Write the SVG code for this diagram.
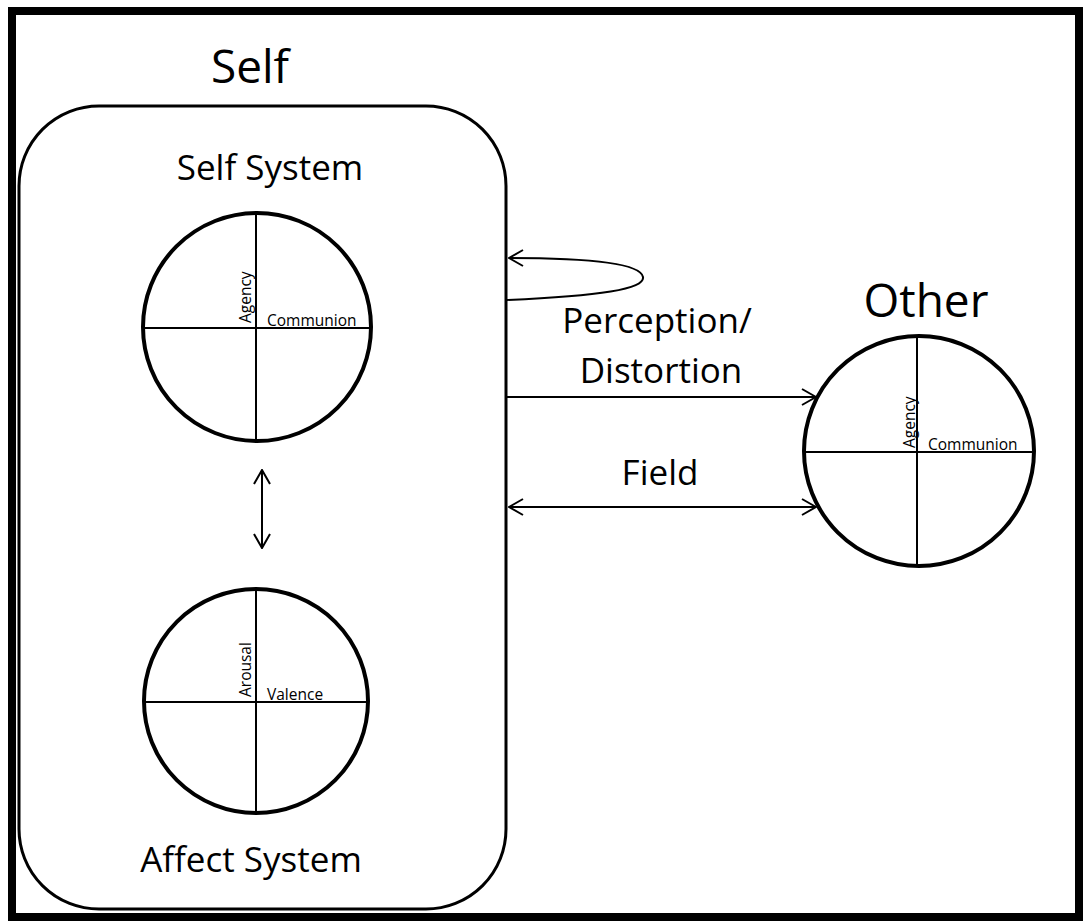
<svg xmlns="http://www.w3.org/2000/svg" width="1083" height="921" viewBox="0 0 1083 921">
<style>
text{font-family:"Open Sans","Liberation Sans",sans-serif;fill:#000}
.big{font-size:46px}
.mid{font-size:35px}
.sm{font-size:15.5px}
.circ{fill:#fff;stroke:#000;stroke-width:4}
.axis{stroke:#000;stroke-width:2}
.conn{fill:none;stroke:#000;stroke-width:2}
</style>
<defs>
<marker id="ah" viewBox="0 0 16 18" refX="15" refY="9" markerWidth="16" markerHeight="18" markerUnits="userSpaceOnUse" orient="auto-start-reverse">
<path d="M1,1 L15,9 L1,17" fill="none" stroke="#000" stroke-width="2"/>
</marker>
</defs>
<rect x="0" y="0" width="1083" height="921" fill="#fff"/>
<rect id="frame" x="12" y="11" width="1067" height="906" fill="none" stroke="#000" stroke-width="8"/>

<g id="self">
<text class="big" x="250" y="83" text-anchor="middle">Self</text>
<rect x="19" y="106" width="487" height="803" rx="80" ry="80" fill="none" stroke="#000" stroke-width="3"/>
</g>

<g id="self-system">
<text class="mid" x="270" y="180" text-anchor="middle">Self System</text>
<circle class="circ" cx="257" cy="327" r="114"/>
<line class="axis" x1="256" y1="213" x2="256" y2="441"/>
<line class="axis" x1="143" y1="328" x2="371" y2="328"/>
<text class="sm" transform="translate(251,323) rotate(-90)">Agency</text>
<text class="sm" x="267" y="326">Communion</text>
</g>

<g id="affect-system">
<circle class="circ" cx="256" cy="701" r="112"/>
<line class="axis" x1="256" y1="589" x2="256" y2="813"/>
<line class="axis" x1="144" y1="702" x2="368" y2="702"/>
<text class="sm" transform="translate(251,697) rotate(-90)">Arousal</text>
<text class="sm" x="267" y="700">Valence</text>
<text class="mid" x="251" y="872" text-anchor="middle">Affect System</text>
</g>

<g id="other">
<text class="big" x="926" y="317" text-anchor="middle">Other</text>
<circle class="circ" cx="919" cy="451" r="115"/>
<line class="axis" x1="917" y1="336" x2="917" y2="566"/>
<line class="axis" x1="804" y1="452" x2="1034" y2="452"/>
<text class="sm" transform="translate(915,448) rotate(-90)">Agency</text>
<text class="sm" x="928" y="450">Communion</text>
</g>

<g id="connectors">
<line class="conn" x1="262" y1="470" x2="262" y2="548" marker-start="url(#ah)" marker-end="url(#ah)"/>
<path class="conn" d="M507,300 C600,296 645,289 643,277 C641,265 600,258 509,258" marker-end="url(#ah)"/>
<line class="conn" x1="507" y1="397" x2="816" y2="397" marker-end="url(#ah)"/>
<line class="conn" x1="509" y1="507" x2="816" y2="507" marker-start="url(#ah)" marker-end="url(#ah)"/>
<text class="mid" x="657" y="333" text-anchor="middle">Perception/</text>
<text class="mid" x="661" y="383" text-anchor="middle">Distortion</text>
<text class="mid" x="660" y="485" text-anchor="middle">Field</text>
</g>
</svg>
